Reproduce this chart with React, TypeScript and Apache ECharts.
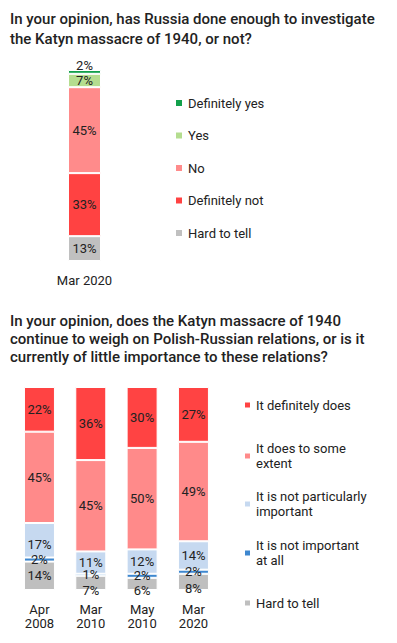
import React, { useEffect, useRef } from 'react';
import * as echarts from 'echarts';

// ---- Chart 1 data ----
const topCategories = ['Mar 2020'];
const topHardToTell = [13];
const topDefinitelyNot = [33];
const topNo = [45];
const topYes = [7];
const topDefinitelyYes = [2];

// ---- Chart 2 data ----
const bottomCategories = ['Apr\n2008', 'Mar\n2010', 'May\n2010', 'Mar\n2020'];
const bottomHardToTell = [14, 7, 6, 8];
const bottomNotAtAll = [2, 1, 2, 2];
const bottomNotParticularly = [17, 11, 12, 14];
const bottomSomeExtent = [45, 45, 50, 49];
const bottomDefinitelyDoes = [22, 36, 30, 27];

const FONT = 'Roboto';
const TXT = '#222222';

function mkSeries(name: string, data: number[], color: string, barWidth: number, offsets?: (number[] | null)[]) {
  return {
    type: 'bar',
    name,
    stack: 'total',
    barWidth,
    data: data.map((v, i) => {
      const o = offsets && offsets[i];
      return o ? { value: v, label: { offset: o } } : v;
    }),
    itemStyle: { color, borderColor: '#ffffff', borderWidth: 1 },
    label: {
      show: true,
      position: 'inside',
      formatter: '{c}%',
      fontSize: 13,
      fontFamily: FONT,
      color: TXT,
    },
  };
}

function legendAt(name: string, display: string, left: number, top: number, iconSize: number, twoLine: boolean) {
  return {
    orient: 'vertical',
    left,
    top,
    padding: 0,
    itemWidth: iconSize,
    itemHeight: iconSize,
    icon: 'rect',
    selectedMode: false,
    data: [name],
    formatter: () => display,
    textStyle: {
      fontSize: 13,
      fontFamily: FONT,
      color: TXT,
      lineHeight: 15,
      padding: twoLine ? [15, 0, 0, 0] : 0,
    },
  };
}

export default function App() {
  const topRef = useRef<HTMLDivElement>(null);
  const botRef = useRef<HTMLDivElement>(null);

  useEffect(() => {
    document.body.style.margin = '0';
    const c1 = echarts.init(topRef.current!, null, { renderer: 'svg' });
    const c2 = echarts.init(botRef.current!, null, { renderer: 'svg' });

    c1.setOption({
      animation: false,
      backgroundColor: '#ffffff',
      title: {
        text: 'In your opinion, has Russia done enough to investigate\nthe Katyn massacre of 1940, or not?',
        left: 10,
        top: 9,
        padding: 0,
        textStyle: { fontFamily: FONT, fontSize: 15, fontWeight: 500, color: TXT, lineHeight: 20 },
      },
      legend: {
        orient: 'vertical',
        left: 174,
        top: 95.5,
        padding: 0,
        itemWidth: 8,
        itemHeight: 8,
        itemGap: 17.5,
        icon: 'rect',
        selectedMode: false,
        data: ['Definitely yes', 'Yes', 'No', 'Definitely not', 'Hard to tell'],
        textStyle: { fontSize: 13, fontFamily: FONT, color: TXT, lineHeight: 15 },
      },
      grid: { left: 58, width: 53, top: 70, height: 191 },
      xAxis: {
        type: 'category',
        data: topCategories,
        axisLine: { show: false },
        axisTick: { show: false },
        axisLabel: { margin: 13, fontSize: 13, fontFamily: FONT, color: TXT },
      },
      yAxis: { type: 'value', min: 0, max: 100, show: false },
      series: [
        mkSeries('Hard to tell', topHardToTell, '#c0c0c0', 33),
        mkSeries('Definitely not', topDefinitelyNot, '#ff4242', 33),
        mkSeries('No', topNo, '#ff8b8b', 33),
        mkSeries('Yes', topYes, '#b4dd8f', 33),
        mkSeries('Definitely yes', topDefinitelyYes, '#12a04b', 33, [[0, -6]]),
      ],
    });

    c2.setOption({
      animation: false,
      backgroundColor: '#ffffff',
      title: {
        text: 'In your opinion, does the Katyn massacre of 1940\ncontinue to weigh on Polish-Russian relations, or is it\ncurrently of little importance to these relations?',
        left: 10,
        top: 11.5,
        padding: 0,
        textStyle: { fontFamily: FONT, fontSize: 15, fontWeight: 500, color: TXT, lineHeight: 18 },
      },
      legend: [
        legendAt('It definitely does', 'It definitely does', 243, 97.5, 7, false),
        legendAt('It does to some extent', 'It does to some\nextent', 243, 133.5, 7, true),
        legendAt('It is not particularly important', 'It is not particularly\nimportant', 243, 181.5, 7, true),
        legendAt('It is not important at all', 'It is not important\nat all', 243, 230.5, 7, true),
        legendAt('Hard to tell', 'Hard to tell', 243, 295.5, 7, false),
      ],
      grid: { left: 13.8, width: 205.3, top: 87, height: 203 },
      xAxis: {
        type: 'category',
        data: bottomCategories,
        axisLine: { show: false },
        axisTick: { show: false },
        axisLabel: { margin: 13, fontSize: 13, fontFamily: FONT, color: TXT, lineHeight: 13.5 },
      },
      yAxis: { type: 'value', min: 0, max: 100, show: false },
      series: [
        mkSeries('Hard to tell', bottomHardToTell, '#bfbfbf', 31, [null, [0, 8], [0, 7], [0, 7]]),
        mkSeries('It is not important at all', bottomNotAtAll, '#3d87cf', 31),
        mkSeries('It is not particularly important', bottomNotParticularly, '#c6d9f0', 31, [[0, 4], null, null, null]),
        mkSeries('It does to some extent', bottomSomeExtent, '#ff8a8a', 31),
        mkSeries('It definitely does', bottomDefinitelyDoes, '#ff4343', 31),
      ],
    });

    return () => {
      c1.dispose();
      c2.dispose();
    };
  }, []);

  return (
    <div style={{ width: 397, height: 643, background: '#ffffff' }}>
      <div ref={topRef} style={{ width: 397, height: 300 }} />
      <div ref={botRef} style={{ width: 397, height: 343 }} />
    </div>
  );
}
